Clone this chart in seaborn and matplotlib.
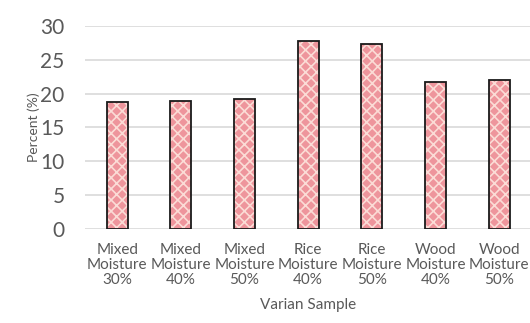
import matplotlib
matplotlib.use("Agg")
import matplotlib.pyplot as plt
import seaborn as sns
import pandas as pd

# Sample variants and their percentages
samples = [
    "Mixed\nMoisture\n30%",
    "Mixed\nMoisture\n40%",
    "Mixed\nMoisture\n50%",
    "Rice\nMoisture\n40%",
    "Rice\nMoisture\n50%",
    "Wood\nMoisture\n40%",
    "Wood\nMoisture\n50%",
]
percent = [18.7, 18.9, 19.15, 27.7, 27.3, 21.7, 22.0]
y_ticks = [0, 5, 10, 15, 20, 25, 30]

df = pd.DataFrame({"sample": samples, "percent": percent})

sns.set_theme(style="white")
plt.rcParams["font.family"] = ["Lato", "DejaVu Sans"]
plt.rcParams["hatch.linewidth"] = 1.2

text_color = "#595959"

fig = plt.figure(figsize=(5.3, 3.23), dpi=100)
ax = fig.add_axes([0.161, 0.291, 0.841, 0.629])

# textured pink fill
sns.barplot(data=df, x="sample", y="percent", color="#EE959C", saturation=1,
            width=0.33, edgecolor="#FBDCD6", linewidth=0, hatch="xxx", ax=ax,
            zorder=2)
# dark outline
sns.barplot(data=df, x="sample", y="percent", color="#1a1a1a", fill=False,
            width=0.33, linewidth=1.3, ax=ax, zorder=3)

ax.set_ylim(0, 30)
ax.set_yticks(y_ticks)
ax.yaxis.grid(True, color="#d9d9d9", linewidth=1.2, zorder=0)
ax.set_axisbelow(True)
for s in ax.spines.values():
    s.set_visible(False)

ax.tick_params(axis="y", length=0, pad=15, labelsize=15, labelcolor=text_color)
ax.tick_params(axis="x", length=0, pad=10, labelsize=11, labelcolor=text_color)
for lbl in ax.get_xticklabels():
    lbl.set_linespacing(1.08)

ax.set_ylabel("Percent (%)", fontsize=10, color=text_color, labelpad=0)
ax.set_xlabel("Varian Sample", fontsize=11, color=text_color, labelpad=8)

fig.savefig("out.png", dpi=100)
